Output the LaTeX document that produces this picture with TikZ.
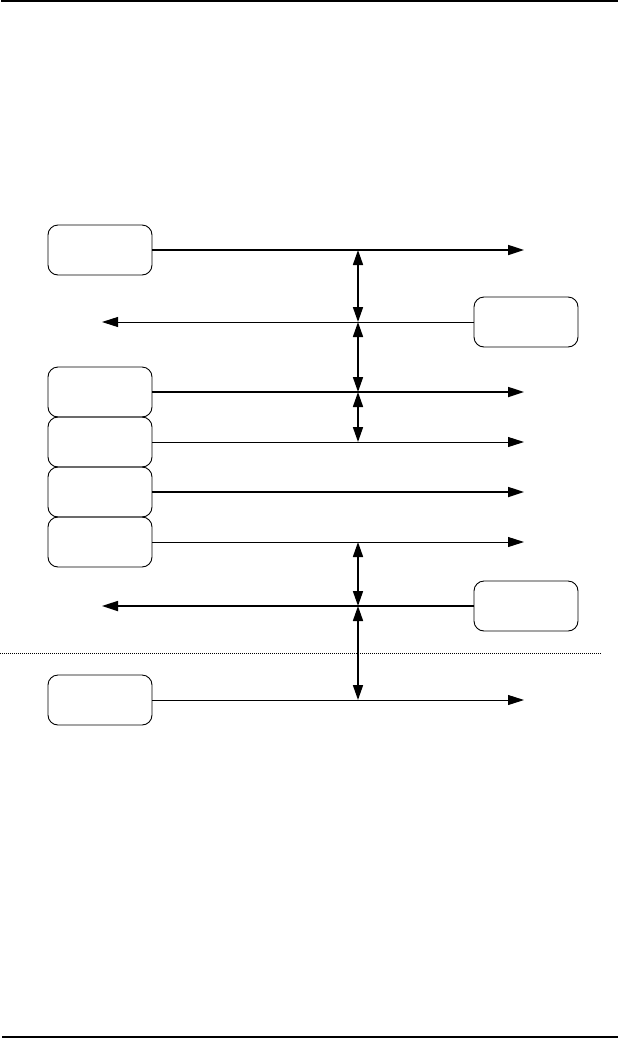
\documentclass[tikz,border=0pt]{standalone}
\usetikzlibrary{positioning,arrows.meta}

\begin{document}
\begin{tikzpicture}[x=1pt, y=-1pt,
    box/.style={rectangle, rounded corners=10pt, draw=black, line width=0.9pt, minimum width=104pt, minimum height=50pt, inner sep=0pt, outer sep=0pt},
    thickarr/.style={-{Triangle[length=16pt,width=10pt]}, line width=1.7pt},
    thinarr/.style={-{Triangle[length=16pt,width=10pt]}, line width=0.9pt},
    gaparr/.style={{Triangle[length=15pt,width=10pt]}-{Triangle[length=15pt,width=10pt]}, line width=1.7pt}
    ]
        \useasboundingbox (0,0) rectangle (619,1039);

        %Rules
        \draw[line width=1.5pt] (1,1) -- (618,1);
        \draw[line width=1.5pt] (2,1037) -- (618,1037);
        \draw[dash pattern=on 0.8pt off 1.2pt, line width=0.7pt] (0,653) -- (601,653);

        %Ends
        \coordinate (endR) at (524,0);
        \coordinate (endL) at (102,0);
        \coordinate (mid)  at (358,0);

        %Nodes
        \node[box] (mA) at (100,250) {};
        \node[box] (mB) at (526,322) {};
        \node[box] (mC) at (100,392) {};
        \node[box] (mD) [below=0pt of mC] {};
        \node[box] (mE) [below=0pt of mD] {};
        \node[box] (mF) [below=0pt of mE] {};
        \node[box] (mG) at (526,606) {};
        \node[box] (mH) at (100,700) {};

        %Lines
        \draw[thickarr] (mA.east) -- (mA.east -| endR);
        \draw[thinarr]  (mB.west) -- (mB.west -| endL);
        \draw[thickarr] (mC.east) -- (mC.east -| endR);
        \draw[thinarr]  (mD.east) -- (mD.east -| endR);
        \draw[thickarr] (mE.east) -- (mE.east -| endR);
        \draw[thinarr]  (mF.east) -- (mF.east -| endR);
        \draw[thickarr] (mG.west) -- (mG.west -| endL);
        \draw[thinarr]  (mH.east) -- (mH.east -| endR);

        %Gaps
        \draw[gaparr] (mA.east -| mid) -- (mB.west -| mid);
        \draw[gaparr] (mB.west -| mid) -- (mC.east -| mid);
        \draw[gaparr] (mC.east -| mid) -- (mD.east -| mid);
        \draw[gaparr] (mF.east -| mid) -- (mG.west -| mid);
        \draw[gaparr] (mG.west -| mid) -- (mH.east -| mid);
    \end{tikzpicture}
\end{document}
